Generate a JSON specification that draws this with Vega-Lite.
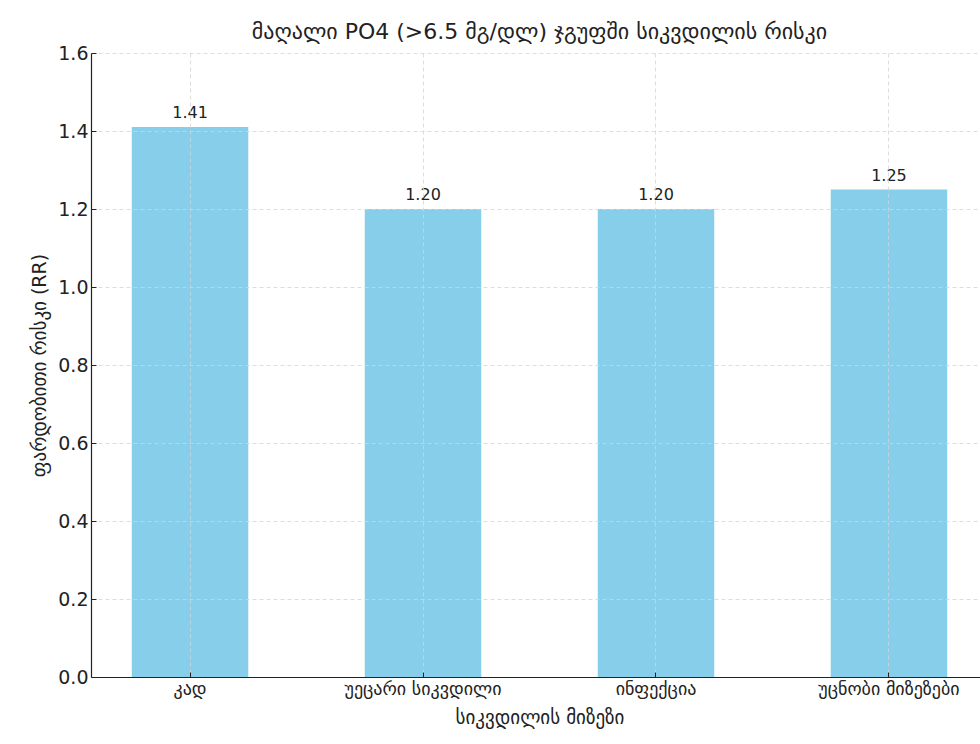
{
  "$schema": "https://vega.github.io/schema/vega-lite/v6.json",
  "width": 897,
  "height": 624,
  "autosize": {"type": "none"},
  "padding": {"left": 91, "top": 53, "right": 0, "bottom": 67},
  "background": "white",
  "config": {
    "font": "DejaVu Sans",
    "view": {"stroke": null}
  },
  "title": {
    "text": "მაღალი PO4 (>6.5 მგ/დლ) ჯგუფში სიკვდილის რისკი",
    "fontSize": 22,
    "fontWeight": "normal",
    "color": "#222222",
    "offset": 0,
    "anchor": "middle"
  },
  "data": {
    "values": [
      {"cause": "კად", "rr": 1.41},
      {"cause": "უეცარი სიკვდილი", "rr": 1.20},
      {"cause": "ინფექცია", "rr": 1.20},
      {"cause": "უცნობი მიზეზები", "rr": 1.25}
    ]
  },
  "encoding": {
    "x": {
      "field": "cause",
      "type": "nominal",
      "sort": null,
      "scale": {"paddingInner": 0.5, "paddingOuter": 0.175},
      "axis": {
        "title": "სიკვდილის მიზეზი",
        "titleFontSize": 19,
        "titleFontWeight": "normal",
        "titleColor": "#222222",
        "titlePadding": 10,
        "labelAngle": 0,
        "labelFontSize": 18,
        "labelColor": "#222222",
        "labelPadding": 8,
        "domainColor": "#222222",
        "domainWidth": 1.2,
        "tickColor": "#222222",
        "tickSize": -5,
        "grid": true,
        "gridColor": "#d4d4d4",
        "gridDash": [4, 3],
        "gridWidth": 0.8,
        "zindex": 1
      }
    },
    "y": {
      "field": "rr",
      "type": "quantitative",
      "scale": {"domain": [0, 1.6], "nice": false},
      "axis": {
        "title": "ფარდობითი რისკი (RR)",
        "titleFontSize": 19,
        "titleFontWeight": "normal",
        "titleColor": "#222222",
        "titlePadding": 8,
        "values": [0, 0.2, 0.4, 0.6, 0.8, 1.0, 1.2, 1.4, 1.6],
        "format": ".1f",
        "labelFontSize": 19,
        "labelColor": "#222222",
        "labelPadding": 8,
        "domainColor": "#222222",
        "domainWidth": 1.2,
        "tickColor": "#222222",
        "tickSize": -5,
        "grid": true,
        "gridColor": "#d4d4d4",
        "gridDash": [4, 3],
        "gridWidth": 0.8,
        "zindex": 1
      }
    }
  },
  "layer": [
    {
      "mark": {"type": "bar", "color": "#87ceeb"}
    },
    {
      "mark": {"type": "text", "fontSize": 16, "color": "#222222", "baseline": "alphabetic", "dy": -9},
      "encoding": {
        "text": {"field": "rr", "type": "quantitative", "format": ".2f"}
      }
    }
  ]
}
